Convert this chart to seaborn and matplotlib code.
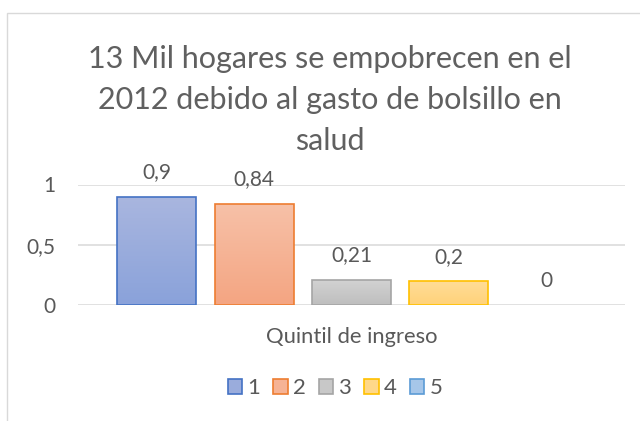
import numpy as np
import pandas as pd
import matplotlib
matplotlib.use("Agg")
import matplotlib.pyplot as plt
import matplotlib.colors as mcolors
from matplotlib.patches import Rectangle, Patch
import seaborn as sns

# data
quintiles = ["1", "2", "3", "4", "5"]
values = [0.9, 0.84, 0.21, 0.2, 0.0]
category = "Quintil de ingreso"
title = "13 Mil hogares se empobrecen en el\n2012 debido al gasto de bolsillo en\nsalud"

# Office-like colours: edge, gradient top, gradient bottom
edge_colors = ["#4472c4", "#ed7d31", "#a5a5a5", "#ffc000", "#5b9bd5"]
top_colors = ["#a9b6df", "#f7c1a8", "#d3d3d3", "#ffdd98", "#b5d0ec"]
bottom_colors = ["#8aa2da", "#f4a582", "#bebebe", "#ffd27a", "#98bde6"]
text_color = "#595959"
grid_color = "#d9d9d9"

sns.set_style("white")
plt.rcParams["font.family"] = ["Lato", "DejaVu Sans"]

df = pd.DataFrame({"cat": [""] * len(quintiles), "Quintil": quintiles, "valor": values})

fig = plt.figure(figsize=(6.4, 4.21), dpi=100)
ax = fig.add_axes([78 / 640, 1 - 305 / 421, 547 / 640, 120.5 / 421])

sns.barplot(data=df, x="cat", y="valor", hue="Quintil", hue_order=quintiles,
            palette=bottom_colors, width=0.891, gap=0.19, dodge=True,
            legend=False, ax=ax, zorder=3)

ax.set_xlim(-0.5, 0.5)
ax.set_ylim(0, 1)

# gradient fill inside each bar, keeping the outline
for patch, ec, c_top, c_bot, v in zip(ax.patches, edge_colors, top_colors, bottom_colors, values):
    x0, y0 = patch.get_x(), patch.get_y()
    w, h = patch.get_width(), patch.get_height()
    if h <= 0:
        patch.set_visible(False)
    else:
        cmap = mcolors.LinearSegmentedColormap.from_list("g", [c_bot, c_top])
        grad = np.linspace(0, 1, 64).reshape(-1, 1)
        im = ax.imshow(grad, cmap=cmap, origin="lower", aspect="auto",
                       extent=[x0, x0 + w, y0, y0 + h], zorder=3)
        im.set_clip_path(patch)
        patch.set_facecolor("none")
        patch.set_edgecolor(ec)
        patch.set_linewidth(1.2)
        patch.set_zorder(4)
    label = f"{v:g}".replace(".", ",")
    ax.annotate(label, (x0 + w / 2, v), xytext=(0, 17.5), textcoords="offset points",
                ha="center", va="center", fontsize=15, color=text_color,
                annotation_clip=False)

ax.set_xlim(-0.5, 0.5)
ax.set_ylim(0, 1)
ax.set_yticks([0, 0.5, 1])
ax.set_yticklabels(["0", "0,5", "1"])
ax.set_xticks([])
ax.tick_params(axis="y", length=0, pad=16, labelsize=15, labelcolor=text_color)
for y in [0, 0.5, 1]:
    ax.axhline(y, color=grid_color, lw=1.1, zorder=1)
sns.despine(ax=ax, left=True, bottom=True)
ax.set_xlabel(category, fontsize=15.8, color=text_color, labelpad=16)
ax.set_ylabel("")

fig.text(330 / 640, 1 - 100 / 421, title, ha="center", va="center",
         fontsize=22, color="#606060", linespacing=1.55)

handles = [Patch(facecolor=mcolors.to_hex(np.mean([mcolors.to_rgb(a), mcolors.to_rgb(b)], axis=0)),
                 edgecolor=e, linewidth=1.2, label=q)
           for q, a, b, e in zip(quintiles, top_colors, bottom_colors, edge_colors)]
fig.legend(handles=handles, loc="center", bbox_to_anchor=(335 / 640, 1 - 388 / 421),
           ncol=5, frameon=False, fontsize=16, labelcolor=text_color,
           handlelength=0.65, handleheight=0.65, handletextpad=0.22, columnspacing=0.6)

# chart area border
fig.patches.append(Rectangle((7 / 640, -0.1), 1.2, 1.1 - 13 / 421, transform=fig.transFigure,
                             fill=False, edgecolor=grid_color, linewidth=1.0))

fig.savefig("out.png", dpi=100)
